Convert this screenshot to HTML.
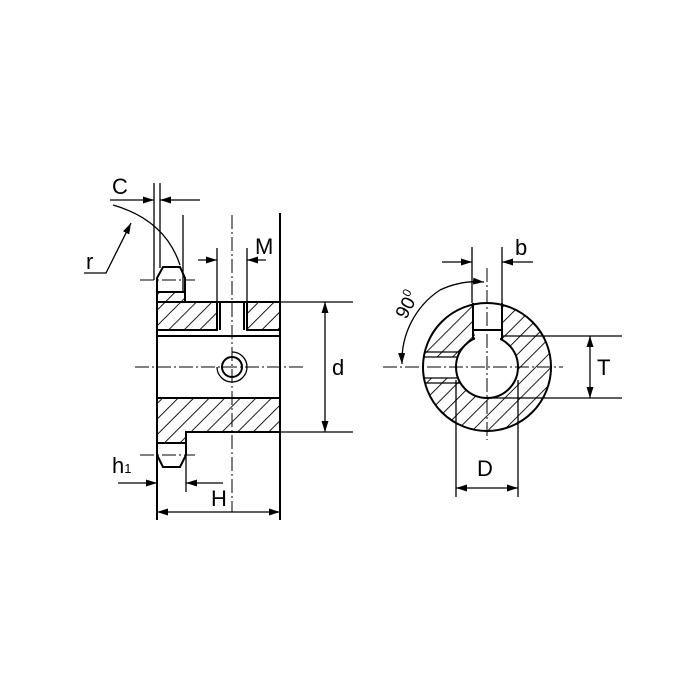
<!DOCTYPE html>
<html><head><style>body{margin:0;background:#fff}svg{display:block}</style></head><body>
<svg width="700" height="700" viewBox="0 0 700 700" xmlns="http://www.w3.org/2000/svg" font-family="Liberation Sans, sans-serif">
<defs>
<pattern id="h" patternUnits="userSpaceOnUse" width="11" height="11" patternTransform="rotate(45)">
<line x1="0" y1="0" x2="0" y2="11" stroke="#000" stroke-width="1.8"/>
</pattern>
<marker id="a" markerWidth="11" markerHeight="7" refX="11" refY="3.5" orient="auto" markerUnits="userSpaceOnUse"><path d="M0,0 L11,3.5 L0,7 z" fill="#000"/></marker>
<clipPath id="ring"><circle cx="487" cy="367" r="64"/></clipPath>
</defs>
<g stroke="#000" fill="none" stroke-width="2">
<path d="M157,292 H185 V302 H217 V330 H157 Z" fill="url(#h)"/>
<rect x="247" y="302" width="33" height="28" fill="url(#h)"/>
<path d="M157,398 H280 V432 H186 V443 H157 Z" fill="url(#h)"/>
<line x1="220" y1="302" x2="220" y2="330"/><line x1="244" y1="302" x2="244" y2="330"/>
<line x1="157" y1="302" x2="280" y2="302"/>
<line x1="157" y1="336" x2="280" y2="336"/>
<line x1="157" y1="292" x2="157" y2="520"/>
<line x1="280" y1="213" x2="280" y2="520"/>
<path d="M157,292 V278 L163,267 H180 L185,278 V292"/>
<line x1="183" y1="215" x2="183" y2="292" stroke-width="1.3"/>
<path d="M157,443 V455 L163,467 H180 L186,455 V432"/>
<line x1="186" y1="432" x2="186" y2="492" stroke-width="1.3"/>
<line x1="154" y1="183" x2="154" y2="280" stroke-width="1.3"/>
<line x1="160" y1="183" x2="160" y2="268" stroke-width="1.3"/>
<line x1="110" y1="200" x2="154" y2="200" stroke-width="1.3" marker-end="url(#a)"/>
<line x1="200" y1="200" x2="160" y2="200" stroke-width="1.3" marker-end="url(#a)"/>
<path d="M113,205 Q165,220 180,265" stroke-width="1.3"/>
<polyline points="84,273 106,273 131,223" stroke-width="1.3" marker-end="url(#a)"/>
<line x1="217" y1="248" x2="217" y2="302" stroke-width="1.3"/>
<line x1="247" y1="248" x2="247" y2="302" stroke-width="1.3"/>
<line x1="198" y1="260" x2="217" y2="260" stroke-width="1.3" marker-end="url(#a)"/>
<line x1="266" y1="260" x2="247" y2="260" stroke-width="1.3" marker-end="url(#a)"/>
<circle cx="232" cy="367" r="10"/>
<path d="M217,367 A15,15 0 1 0 232,352" stroke-width="1.3"/>
<line x1="232" y1="215" x2="232" y2="512" stroke-width="1" stroke-dasharray="14,3,2,3"/>
<line x1="135" y1="367" x2="305" y2="367" stroke-width="1" stroke-dasharray="14,3,2,3"/>
<line x1="140" y1="280" x2="195" y2="280" stroke-width="1" stroke-dasharray="14,3,2,3"/>
<line x1="140" y1="455" x2="195" y2="455" stroke-width="1" stroke-dasharray="14,3,2,3"/>
<line x1="280" y1="302" x2="353" y2="302" stroke-width="1.3"/>
<line x1="280" y1="432" x2="353" y2="432" stroke-width="1.3"/>
<line x1="325" y1="367" x2="325" y2="302" stroke-width="1.3" marker-end="url(#a)"/>
<line x1="325" y1="367" x2="325" y2="432" stroke-width="1.3" marker-end="url(#a)"/>
<line x1="218" y1="512" x2="157" y2="512" stroke-width="1.3" marker-end="url(#a)"/>
<line x1="218" y1="512" x2="280" y2="512" stroke-width="1.3" marker-end="url(#a)"/>
<line x1="118" y1="483" x2="157" y2="483" stroke-width="1.3" marker-end="url(#a)"/>
<line x1="223" y1="483" x2="186" y2="483" stroke-width="1.3" marker-end="url(#a)"/>

<g clip-path="url(#ring)">
<rect x="420" y="300" width="135" height="135" fill="url(#h)" stroke="none"/>
<rect x="473" y="300" width="29" height="30" fill="#fff" stroke="none"/>
<rect x="475" y="330" width="25" height="10" fill="#fff" stroke="none"/>
<rect x="420" y="357" width="40" height="21" fill="#fff" stroke="none"/>
<line x1="420" y1="352" x2="460" y2="352" stroke-width="1.3"/>
<line x1="420" y1="357" x2="460" y2="357" stroke-width="1.3"/>
<line x1="420" y1="378" x2="460" y2="378" stroke-width="1.3"/>
<line x1="420" y1="383" x2="460" y2="383" stroke-width="1.3"/>
</g>
<circle cx="487" cy="367" r="31" fill="#fff"/>
<rect x="473" y="300" width="29" height="30" fill="#fff" stroke="none"/>
<line x1="473" y1="303" x2="473" y2="340"/>
<line x1="502" y1="303" x2="502" y2="340"/>
<line x1="474" y1="330" x2="501" y2="330"/>
<rect x="475" y="331" width="25" height="9" fill="#fff" stroke="none"/>
<circle cx="487" cy="367" r="64"/>
<line x1="472" y1="247" x2="472" y2="303" stroke-width="1.3"/>
<line x1="502" y1="247" x2="502" y2="303" stroke-width="1.3"/>
<line x1="442" y1="262" x2="472" y2="262" stroke-width="1.3" marker-end="url(#a)"/>
<line x1="533" y1="262" x2="502" y2="262" stroke-width="1.3" marker-end="url(#a)"/>
<line x1="502" y1="336" x2="622" y2="336" stroke-width="1.3"/>
<line x1="487" y1="398" x2="622" y2="398" stroke-width="1.3"/>
<line x1="590" y1="367" x2="590" y2="336" stroke-width="1.3" marker-end="url(#a)"/>
<line x1="590" y1="367" x2="590" y2="398" stroke-width="1.3" marker-end="url(#a)"/>
<line x1="456" y1="380" x2="456" y2="497" stroke-width="1.3"/>
<line x1="518" y1="380" x2="518" y2="497" stroke-width="1.3"/>
<line x1="487" y1="488" x2="456" y2="488" stroke-width="1.3" marker-end="url(#a)"/>
<line x1="487" y1="488" x2="518" y2="488" stroke-width="1.3" marker-end="url(#a)"/>
<path d="M440,290 A85,85 0 0 0 402,364" stroke-width="1.3" marker-end="url(#a)"/>
<path d="M440,290 A85,85 0 0 1 484,282" stroke-width="1.3" marker-end="url(#a)"/>
<line x1="383" y1="367" x2="563" y2="367" stroke-width="1" stroke-dasharray="14,3,2,3"/>
<line x1="487" y1="268" x2="487" y2="440" stroke-width="1" stroke-dasharray="14,3,2,3"/>
</g>
<g font-size="22" fill="#000">
<text x="112" y="194">C</text>
<text x="86" y="269">r</text>
<text x="255" y="254">M</text>
<text x="332" y="375">d</text>
<text x="211" y="506">H</text>
<text x="112" y="473">h<tspan font-size="13">1</tspan></text>
<text x="515" y="255">b</text>
<text x="597" y="375">T</text>
<text x="477" y="476">D</text>
<text x="0" y="0" font-size="19" transform="translate(406,320) rotate(-62)">90<tspan font-size="12" dy="-8">0</tspan></text>
</g>
</svg>
</body></html>
